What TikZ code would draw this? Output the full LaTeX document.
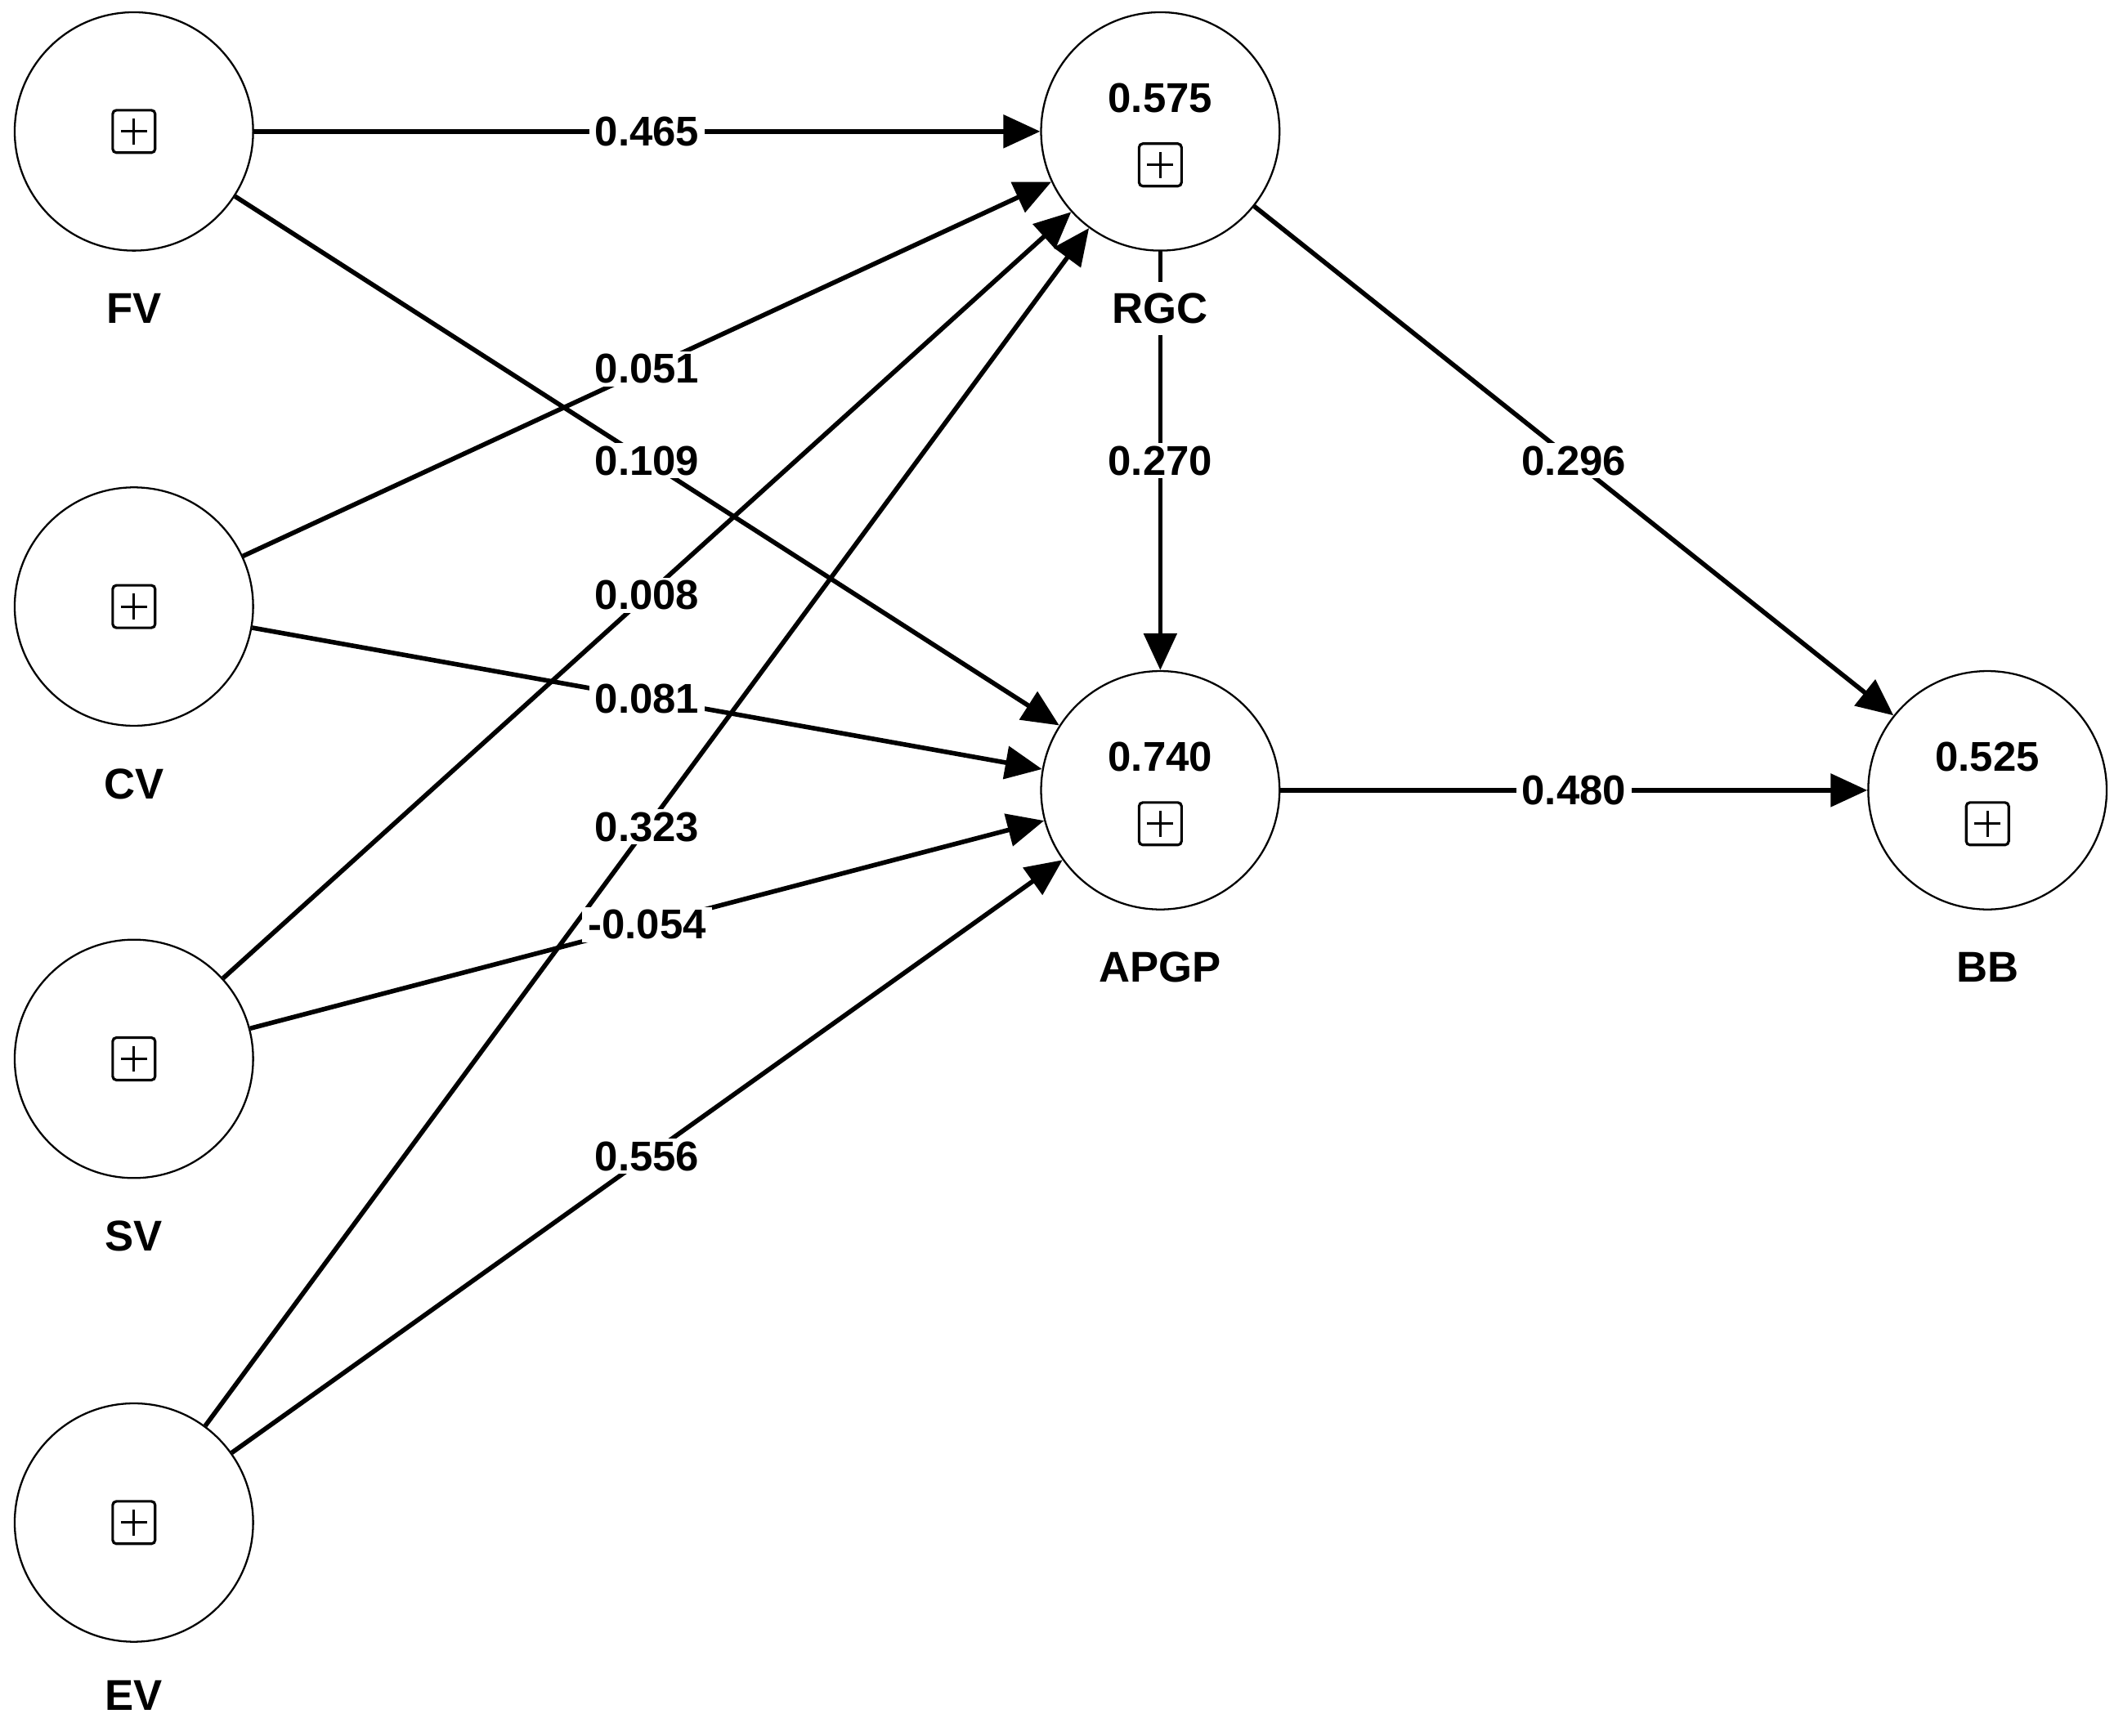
\documentclass[tikz,border=0pt]{standalone}
\usepackage{fontspec}
\setmainfont{Liberation Sans}
\usepackage{tikz}
\usetikzlibrary{arrows.meta, positioning, shapes.geometric}

\begin{document}
\begin{tikzpicture}[
    latent/.style={draw=black, circle, line width=0.65pt, minimum size=2.92cm, inner sep=0pt},
    plusbox/.style={draw=black, rectangle, rounded corners=1.3pt, line width=0.9pt,
        minimum size=0.52cm, inner sep=0pt,
        path picture={
            \draw[line width=0.8pt] ([xshift=-0.16cm]path picture bounding box.center)
                -- ([xshift=0.16cm]path picture bounding box.center);
            \draw[line width=0.8pt] ([yshift=-0.16cm]path picture bounding box.center)
                -- ([yshift=0.16cm]path picture bounding box.center);
        }},
    rsq/.style={font=\fontsize{14.5}{16}\selectfont\bfseries, inner sep=1pt},
    lvname/.style={fill=white, font=\fontsize{15}{17}\selectfont\bfseries,
        inner xsep=2pt, inner ysep=4pt},
    flow/.style={-{Triangle[length=4.5mm, width=4mm]}, line width=1.6pt, color=black},
    wlab/.style={fill=white, font=\fontsize{14.5}{16}\selectfont\bfseries,
        inner xsep=2pt, inner ysep=1pt}
]
\useasboundingbox (0,0) rectangle (26,21.26);

% --- Exogenous constructs ---
\node[latent] (fv) at (1.64, 19.65) {};
\node[latent] (cv) at (1.64, 13.83) {};
\node[latent] (sv) at (1.64, 8.29) {};
\node[latent] (ev) at (1.64, 2.61) {};
\node[plusbox] (fvbox) at (fv.center) {};
\node[plusbox] (cvbox) at (cv.center) {};
\node[plusbox] (svbox) at (sv.center) {};
\node[plusbox] (evbox) at (ev.center) {};

% --- Endogenous constructs (with R squared) ---
\node[latent] (rgc)  at (14.21, 19.65) {};
\node[latent] (apgp) at (14.21, 11.58) {};
\node[latent] (bb)   at (24.34, 11.58) {};
\node[rsq] (rgcr2)  at ([yshift=0.41cm]rgc.center) {0.575};
\node[rsq] (apgpr2) at ([yshift=0.41cm]apgp.center) {0.740};
\node[rsq] (bbr2)   at ([yshift=0.41cm]bb.center) {0.525};
\node[plusbox] (rgcbox)  at ([yshift=-0.41cm]rgc.center) {};
\node[plusbox] (apgpbox) at ([yshift=-0.41cm]apgp.center) {};
\node[plusbox] (bbbox)   at ([yshift=-0.41cm]bb.center) {};

% --- Paths to RGC ---
\draw[flow] (fv) -- (rgc) node[wlab, midway] {0.465};
\draw[flow] (cv) -- (rgc) node[wlab, midway] {0.051};
\draw[flow] (sv) -- (rgc) node[wlab, midway] {0.008};
\draw[flow] (ev) -- (rgc) node[wlab, midway] {0.323};

% --- Paths to APGP ---
\draw[flow] (fv) -- (apgp) node[wlab, midway] {0.109};
\draw[flow] (cv) -- (apgp) node[wlab, midway] {0.081};
\draw[flow] (sv) -- (apgp) node[wlab, midway] {-0.054};
\draw[flow] (ev) -- (apgp) node[wlab, midway] {0.556};
\draw[flow] (rgc) -- (apgp) node[wlab, midway] {0.270};

% --- Paths to BB ---
\draw[flow] (rgc) -- (bb) node[wlab, midway] {0.296};
\draw[flow] (apgp) -- (bb) node[wlab, midway] {0.480};

% --- Construct names ---
\node[lvname] (fvname)   at ([yshift=-2.17cm]fv.center) {FV};
\node[lvname] (cvname)   at ([yshift=-2.17cm]cv.center) {CV};
\node[lvname] (svname)   at ([yshift=-2.17cm]sv.center) {SV};
\node[lvname] (evname)   at ([yshift=-2.12cm]ev.center) {EV};
\node[lvname] (rgcname)  at ([yshift=-2.17cm]rgc.center) {RGC};
\node[lvname] (apgpname) at ([yshift=-2.17cm]apgp.center) {APGP};
\node[lvname] (bbname)   at ([yshift=-2.17cm]bb.center) {BB};

\end{tikzpicture}
\end{document}
